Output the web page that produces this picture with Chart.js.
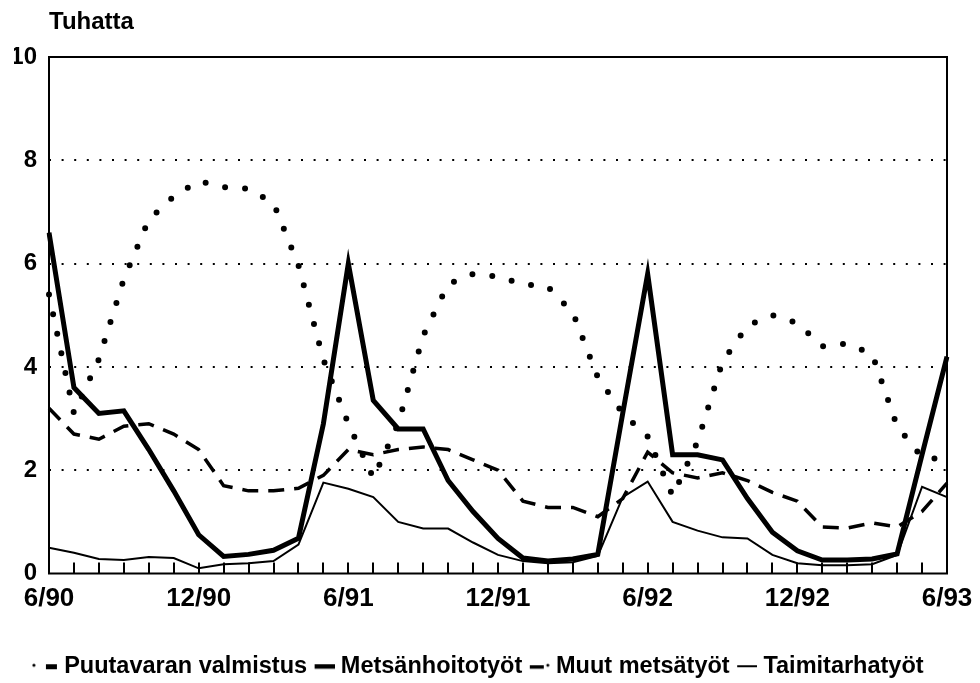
<!DOCTYPE html>
<html>
<head>
<meta charset="utf-8">
<script src="https://cdn.jsdelivr.net/npm/chart.js@4.4.1/dist/chart.umd.min.js"></script>
<style>
    html, body { margin: 0; padding: 0; background: #fff; }
    #wrap { width: 980px; height: 683px; }
</style>
</head>
<body>
<div id="wrap"><canvas id="myChart" width="980" height="683"></canvas></div>
<script>
// kuukaudet 6/90 - 6/93
var kuukaudet = ['6/90', '7/90', '8/90', '9/90', '10/90', '11/90', '12/90', '1/91', '2/91', '3/91', '4/91', '5/91',
    '6/91', '7/91', '8/91', '9/91', '10/91', '11/91', '12/91', '1/92', '2/92', '3/92', '4/92', '5/92',
    '6/92', '7/92', '8/92', '9/92', '10/92', '11/92', '12/92', '1/93', '2/93', '3/93', '4/93', '5/93', '6/93'];
var akseli_tekstit = ['6/90', '12/90', '6/91', '12/91', '6/92', '12/92', '6/93'];
var y_tikit = [0, 2, 4, 6, 8, 10];

var puutavaran_valmistus = [5.4, 3.1, 4.15, 5.7, 6.85, 7.3, 7.6, 7.48, 7.45, 7.17, 5.97, 4.14,
    2.9, 1.85, 2.9, 4.6, 5.6, 5.8, 5.75, 5.6, 5.55, 5.05, 3.8, 3.1,
    2.65, 1.5, 2.55, 4.1, 4.8, 5.0, 4.85, 4.4, 4.45, 4.25, 2.85, 2.25, 2.2];
var metsanhoitotyot = [6.6, 3.6, 3.1, 3.15, 2.4, 1.6, 0.75, 0.33, 0.37, 0.45, 0.68, 2.9,
    6.0, 3.35, 2.8, 2.8, 1.8, 1.2, 0.68, 0.3, 0.24, 0.28, 0.37, 3.1,
    5.8, 2.3, 2.3, 2.2, 1.45, 0.8, 0.44, 0.26, 0.26, 0.28, 0.38, 2.3, 4.2];
var muut_metsatyot = [3.2, 2.7, 2.6, 2.85, 2.9, 2.7, 2.4, 1.7, 1.6, 1.6, 1.65, 1.9,
    2.4, 2.3, 2.4, 2.45, 2.4, 2.2, 2.0, 1.4, 1.28, 1.28, 1.1, 1.45,
    2.35, 1.95, 1.85, 1.95, 1.8, 1.57, 1.4, 0.9, 0.88, 0.98, 0.9, 1.2, 1.75];
var taimitarhatyot = [0.5, 0.4, 0.28, 0.26, 0.32, 0.3, 0.1, 0.18, 0.2, 0.24, 0.56, 1.76,
    1.64, 1.48, 1.0, 0.87, 0.87, 0.6, 0.36, 0.24, 0.2, 0.22, 0.34, 1.48,
    1.78, 1.0, 0.83, 0.7, 0.68, 0.36, 0.2, 0.16, 0.16, 0.18, 0.36, 1.68, 1.48];

var fontti = "'Liberation Sans', Arial, sans-serif";

// selitteen pienet merkit piirretään omiin canvaksiin
var merkki = function (piirto) {
    var c = document.createElement('canvas');
    c.width = 26;
    c.height = 12;
    var g = c.getContext('2d');
    g.fillStyle = '#000';
    piirto(g);
    return c;
}
var selite_merkit = [
    merkki(function (g) {
        g.beginPath(); g.arc(2, 5, 1.6, 0, Math.PI * 2); g.fill();
        g.fillRect(14, 4, 11, 5);
    }),
    merkki(function (g) { g.fillRect(6, 4, 20, 4.5); }),
    merkki(function (g) {
        g.fillRect(6, 5, 14, 3.5);
        g.beginPath(); g.arc(24, 5, 1.5, 0, Math.PI * 2); g.fill();
    }),
    merkki(function (g) { g.fillRect(6, 5, 20, 2); })
];

// kehys piirtoalueen ympärille
var kehys = {
    id: 'kehys',
    afterDraw: function (chart) {
        var a = chart.chartArea;
        var ctx = chart.ctx;
        ctx.save();
        ctx.strokeStyle = '#000';
        ctx.lineWidth = 2;
        ctx.strokeRect(a.left, a.top, a.right - a.left, a.bottom - a.top);
        ctx.restore();
    }
};

var ctx = document.getElementById('myChart');
var myChart = new Chart(ctx, {
    type: 'line',
    data: {
        labels: kuukaudet,
        datasets: [
            {
                label: 'Puutavaran valmistus',
                data: puutavaran_valmistus,
                borderColor: '#000',
                borderWidth: 6,
                borderDash: [0, 20],
                borderCapStyle: 'round'
            },
            {
                label: 'Metsänhoitotyöt',
                data: metsanhoitotyot,
                borderColor: '#000',
                borderWidth: 5
            },
            {
                label: 'Muut metsätyöt',
                data: muut_metsatyot,
                borderColor: '#000',
                borderWidth: 3.5,
                borderDash: [16, 10]
            },
            {
                label: 'Taimitarhatyöt',
                data: taimitarhatyot,
                borderColor: '#000',
                borderWidth: 2
            }
        ]
    },
    plugins: [kehys],
    options: {
        responsive: false,
        animation: false,
        layout: { padding: { left: 14, right: 33, top: 0, bottom: -5 } },
        elements: {
            point: { radius: 0 },
            line: { tension: 0, fill: false, borderJoinStyle: 'miter' }
        },
        scales: {
            x: {
                grid: {
                    drawOnChartArea: false,
                    tickLength: -11,
                    color: '#000',
                    lineWidth: 2
                },
                border: { display: false },
                ticks: {
                    autoSkip: false,
                    maxRotation: 0,
                    padding: 21,
                    color: '#000',
                    font: { family: fontti, size: 26, weight: 'bold' },
                    callback: function (value, index) {
                        var t = kuukaudet[index];
                        return akseli_tekstit.indexOf(t) >= 0 ? t : '';
                    }
                },
                afterFit: function (scale) {
                    scale.height = 74;
                    scale.paddingRight = 0;
                    scale.paddingLeft = 0;
                }
            },
            y: {
                min: 0,
                max: 10,
                afterBuildTicks: function (scale) {
                    scale.ticks = y_tikit.map(function (v) { return { value: v }; });
                },
                grid: {
                    drawTicks: false,
                    lineWidth: 2,
                    color: function (c) {
                        if (c.tick && (c.tick.value === 0 || c.tick.value === 10)) return 'rgba(0,0,0,0)';
                        return '#000';
                    }
                },
                border: { display: false, dash: [2, 10.6] },
                ticks: {
                    padding: 12,
                    color: '#000',
                    font: { family: fontti, size: 24, weight: 'bold' }
                },
                afterFit: function (scale) { scale.width = 35; }
            }
        },
        plugins: {
            title: {
                display: true,
                text: 'Tuhatta',
                align: 'start',
                fullSize: false,
                color: '#000',
                font: { family: fontti, size: 24, weight: 'bold' },
                padding: { top: 8, bottom: 20.2 }
            },
            legend: {
                position: 'bottom',
                labels: {
                    usePointStyle: true,
                    pointStyleWidth: 15,
                    padding: 7,
                    color: '#000',
                    font: { family: fontti, size: 23.5, weight: 'bold' },
                    generateLabels: function (chart) {
                        var items = Chart.defaults.plugins.legend.labels.generateLabels(chart);
                        items.forEach(function (it, i) { it.pointStyle = selite_merkit[i]; });
                        return items;
                    }
                }
            },
            tooltip: { enabled: false }
        }
    }
});
</script>
</body>
</html>
